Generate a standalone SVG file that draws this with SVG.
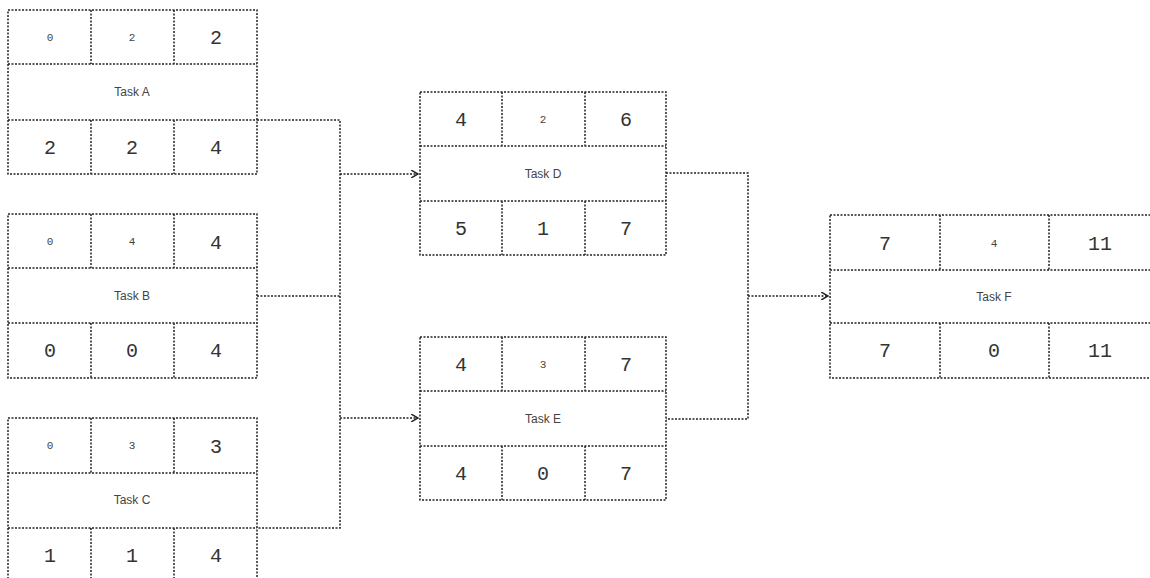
<svg xmlns="http://www.w3.org/2000/svg" width="1150" height="578" viewBox="0 0 1150 578">
<style>
.b{fill:#fff;stroke:#222;stroke-width:1.5;stroke-dasharray:2 1.5}
.l{stroke:#222;stroke-width:1.5;stroke-dasharray:2 1.5;fill:none}
.s{font-family:"Liberation Mono",monospace;font-size:11px;fill:#444;text-anchor:middle}
.n{font-family:"Liberation Mono",monospace;font-size:20px;fill:#333;text-anchor:middle}
.t{font-family:"Liberation Sans",sans-serif;font-size:12px;fill:#444;text-anchor:middle}
</style>
<defs><marker id="a" markerWidth="8" markerHeight="8" refX="7" refY="4" orient="auto" markerUnits="userSpaceOnUse"><path d="M0,0 L7,4 L0,8" fill="none" stroke="#222" stroke-width="1.5"/></marker></defs>
<g id="connectors">
<path class="l" d="M257,120 H340 V528 H257"/>
<path class="l" d="M257,296 H340"/>
<path class="l" d="M340,174 H418" marker-end="url(#a)"/>
<path class="l" d="M340,418 H418" marker-end="url(#a)"/>
<path class="l" d="M666,173 H748 V419 H666"/>
<path class="l" d="M748,296 H828" marker-end="url(#a)"/>
</g>
<g id="taskA">
<rect class="b" x="8" y="10" width="249" height="164"/>
<path class="l" d="M8,64 H257 M8,120 H257 M91,10 V64 M174,10 V64 M91,120 V174 M174,120 V174"/>
<text class="s" x="50" y="41">0</text><text class="s" x="132" y="41">2</text><text class="n" x="216" y="44">2</text>
<text class="t" x="132" y="96">Task A</text>
<text class="n" x="50" y="154">2</text><text class="n" x="132" y="154">2</text><text class="n" x="216" y="154">4</text>
</g>
<g id="taskB">
<rect class="b" x="8" y="214" width="249" height="164"/>
<path class="l" d="M8,268 H257 M8,323 H257 M91,214 V268 M174,214 V268 M91,323 V378 M174,323 V378"/>
<text class="s" x="50" y="245">0</text><text class="s" x="132" y="245">4</text><text class="n" x="216" y="249">4</text>
<text class="t" x="132" y="300">Task B</text>
<text class="n" x="50" y="357">0</text><text class="n" x="132" y="357">0</text><text class="n" x="216" y="357">4</text>
</g>
<g id="taskC">
<rect class="b" x="8" y="418" width="249" height="164"/>
<path class="l" d="M8,473 H257 M8,528 H257 M91,418 V473 M174,418 V473 M91,528 V582 M174,528 V582"/>
<text class="s" x="50" y="449">0</text><text class="s" x="132" y="449">3</text><text class="n" x="216" y="453">3</text>
<text class="t" x="132" y="504">Task C</text>
<text class="n" x="50" y="562">1</text><text class="n" x="132" y="562">1</text><text class="n" x="216" y="562">4</text>
</g>
<g id="taskD">
<rect class="b" x="420" y="92" width="246" height="163"/>
<path class="l" d="M420,146 H666 M420,201 H666 M502,92 V146 M585,92 V146 M502,201 V255 M585,201 V255"/>
<text class="n" x="461" y="126">4</text><text class="s" x="543" y="123">2</text><text class="n" x="626" y="126">6</text>
<text class="t" x="543" y="178">Task D</text>
<text class="n" x="461" y="235">5</text><text class="n" x="543" y="235">1</text><text class="n" x="626" y="235">7</text>
</g>
<g id="taskE">
<rect class="b" x="420" y="337" width="246" height="163"/>
<path class="l" d="M420,391 H666 M420,446 H666 M502,337 V391 M585,337 V391 M502,446 V500 M585,446 V500"/>
<text class="n" x="461" y="371">4</text><text class="s" x="543" y="368">3</text><text class="n" x="626" y="371">7</text>
<text class="t" x="543" y="423">Task E</text>
<text class="n" x="461" y="480">4</text><text class="n" x="543" y="480">0</text><text class="n" x="626" y="480">7</text>
</g>
<g id="taskF">
<rect class="b" x="830" y="215" width="330" height="163"/>
<path class="l" d="M830,270 H1150 M830,323 H1150 M940,215 V270 M1049,215 V270 M940,323 V378 M1049,323 V378"/>
<text class="n" x="885" y="250">7</text><text class="s" x="994" y="247">4</text><text class="n" x="1100" y="250">11</text>
<text class="t" x="994" y="301">Task F</text>
<text class="n" x="885" y="357">7</text><text class="n" x="994" y="357">0</text><text class="n" x="1100" y="357">11</text>
</g>
</svg>
